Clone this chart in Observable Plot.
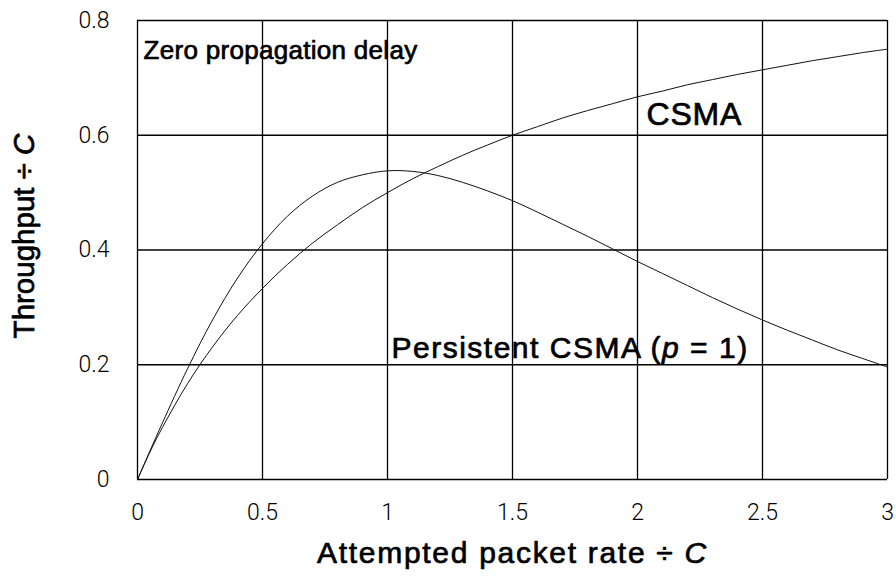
<!DOCTYPE html>
<html>
<head>
<meta charset="utf-8">
<script src="https://cdn.jsdelivr.net/npm/d3@7"></script>
<script src="https://cdn.jsdelivr.net/npm/@observablehq/plot@0.6"></script>
<style>
  html, body { margin: 0; padding: 0; background: #fff; }
  #chart svg { display: block; }
</style>
</head>
<body>
<div id="chart"></div>
<script>
// ---- data ----
const xTickValues = [0, 0.5, 1, 1.5, 2, 2.5, 3];
const yTickValues = [0, 0.2, 0.4, 0.6, 0.8];

const attemptedRate = [0, 0.05, 0.1, 0.2, 0.3, 0.4, 0.5, 0.6, 0.7, 0.8, 0.9, 1.0,
  1.1, 1.2, 1.3, 1.4, 1.5, 1.6, 1.7, 1.8, 1.9, 2.0,
  2.1, 2.2, 2.3, 2.4, 2.5, 2.6, 2.7, 2.8, 2.9, 3.0];

const csmaThroughput = [0, 0.048, 0.091, 0.167, 0.231, 0.286, 0.333, 0.375, 0.412, 0.444, 0.474, 0.500,
  0.524, 0.545, 0.565, 0.583, 0.600, 0.615, 0.630, 0.643, 0.655, 0.667,
  0.677, 0.688, 0.697, 0.706, 0.714, 0.722, 0.730, 0.737, 0.744, 0.750];

const persistentThroughput = [0, 0.050, 0.099, 0.193, 0.278, 0.351, 0.411, 0.459, 0.494, 0.518, 0.531, 0.538,
  0.537, 0.530, 0.518, 0.503, 0.486, 0.466, 0.445, 0.424, 0.402, 0.380,
  0.359, 0.338, 0.317, 0.297, 0.278, 0.260, 0.243, 0.226, 0.211, 0.196];

const annotationTexts = ["Zero propagation delay", "CSMA", "Persistent CSMA (p = 1)"];
const xAxisTitle = "Attempted packet rate \u00F7 C";
const yAxisTitle = "Throughput \u00F7 C";

// ---- tables ----
const csmaRows = attemptedRate.map((g, i) => ({g, s: csmaThroughput[i]}));
const persistentRows = attemptedRate.map((g, i) => ({g, s: persistentThroughput[i]}));

const labelFont = "'Liberation Sans', Arial, Helvetica, sans-serif";
const labelStyle = {fontFamily: labelFont, fontWeight: 400, fill: "#000", stroke: "#000", strokeWidth: 0.7};

const plot = Plot.plot({
  width: 896,
  height: 582,
  marginLeft: 137,
  marginRight: 9,
  marginTop: 20,
  marginBottom: 103,
  style: {
    fontFamily: "Roboto, 'Liberation Sans', sans-serif",
    fontSize: "23px",
    fontWeight: 300,
    color: "#000",
    background: "#fff"
  },
  x: {domain: [0, 3], ticks: xTickValues, tickSize: 0, tickPadding: 24, label: null, tickFormat: d => String(d)},
  y: {domain: [0, 0.8], ticks: yTickValues, tickSize: 0, tickPadding: 28, label: null, tickFormat: d => String(d)},
  marks: [
    Plot.ruleX(xTickValues, {stroke: "#000", strokeWidth: 1.3}),
    Plot.ruleY(yTickValues, {stroke: "#000", strokeWidth: 1.3}),
    Plot.line(csmaRows, {x: "g", y: "s", stroke: "#111", strokeWidth: 1, curve: "catmull-rom"}),
    Plot.line(persistentRows, {x: "g", y: "s", stroke: "#111", strokeWidth: 1, curve: "catmull-rom"}),
    Plot.text([annotationTexts[0]], {x: 0.024, y: 0.748, text: d => d, textAnchor: "start",
      fontSize: 26, ...labelStyle}),
    Plot.text([annotationTexts[1]], {x: 2.036, y: 0.635, text: d => d, textAnchor: "start",
      fontSize: 32, ...labelStyle}),
    Plot.text([annotationTexts[2]], {x: 1.016, y: 0.229, text: d => d, textAnchor: "start",
      fontSize: 30, ...labelStyle}),
    Plot.text([xAxisTitle], {frameAnchor: "bottom", dy: 83, text: d => d, textAnchor: "middle",
      fontSize: 30, ...labelStyle}),
    Plot.text([yAxisTitle], {frameAnchor: "left", dx: -113, dy: -14, rotate: -90, text: d => d, textAnchor: "middle",
      fontSize: 29.5, ...labelStyle})
  ]
});

document.getElementById("chart").appendChild(plot);

// italic parts and letter spacing of the label texts
function setParts(el, parts) {
  const sel = d3.select(el);
  sel.text(null);
  parts.forEach(([s, italic]) => {
    const t = sel.append("tspan").text(s);
    if (italic) t.attr("font-style", "italic");
  });
}
d3.select(plot).selectAll("text").each(function () {
  const t = this.textContent;
  if (t === annotationTexts[2]) {
    setParts(this, [["Persistent CSMA (", false], ["p", true], [" = 1)", false]]);
    this.setAttribute("letter-spacing", "1.5");
  } else if (t === xAxisTitle) {
    setParts(this, [["Attempted packet rate \u00F7 ", false], ["C", true]]);
    this.setAttribute("letter-spacing", "1.7");
  } else if (t === yAxisTitle) {
    setParts(this, [["Throughput \u00F7 ", false], ["C", true]]);
    this.setAttribute("letter-spacing", "0");
  } else if (t === annotationTexts[0]) {
    this.setAttribute("letter-spacing", "0.3");
  } else if (t === annotationTexts[1]) {
    this.setAttribute("letter-spacing", "0.8");
  }
});
</script>
</body>
</html>
